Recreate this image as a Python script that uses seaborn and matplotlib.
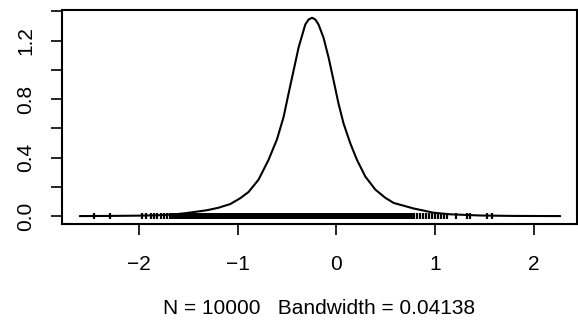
import matplotlib
matplotlib.use("Agg")
import numpy as np
import pandas as pd
import seaborn as sns
import matplotlib.pyplot as plt

# Density curve
dens_x = [-2.60, -2.30, -2.00, -1.80, -1.65, -1.514, -1.311, -1.20, -1.075, -0.974,
          -0.889, -0.788, -0.687, -0.601, -0.534, -0.484, -0.433, -0.382, -0.348,
          -0.314, -0.280, -0.246, -0.212, -0.180, -0.129, -0.078, -0.027, 0.023,
          0.074, 0.142, 0.210, 0.294, 0.396, 0.497, 0.581, 0.784, 0.987, 1.156,
          1.46, 1.80, 2.27]
dens_y = [0.000, 0.001, 0.003, 0.006, 0.011, 0.021, 0.040, 0.056, 0.082, 0.122,
          0.165, 0.249, 0.384, 0.525, 0.678, 0.837, 0.995, 1.153, 1.232,
          1.311, 1.345, 1.357, 1.345, 1.311, 1.220, 1.085, 0.927, 0.769,
          0.633, 0.498, 0.384, 0.271, 0.181, 0.125, 0.090, 0.052, 0.023, 0.012,
          0.004, 0.001, 0.000]

rug_x = [-2.46, -2.29, -1.97, -1.93, -1.88, -1.85, -1.82, -1.78, -1.75, -1.72,
         -1.69, -1.67, -1.65, -1.63, -1.61, -1.59, -1.57, -1.55, -1.53, -1.51, -1.49,
         -1.47, -1.45, -1.43, -1.41, -1.39, -1.37, -1.35, -1.33, -1.31, -1.29, -1.27,
         -1.25, -1.23, -1.21, -1.19, -1.17, -1.15, -1.13, -1.11, -1.09, -1.07, -1.05,
         -1.03, -1.01, -0.99, -0.97, -0.95, -0.93, -0.91, -0.89, -0.87, -0.85, -0.83,
         -0.81, -0.79, -0.77, -0.75, -0.73, -0.71, -0.69, -0.67, -0.65, -0.63, -0.61,
         -0.59, -0.57, -0.55, -0.53, -0.51, -0.49, -0.47, -0.45, -0.43, -0.41, -0.39,
         -0.37, -0.35, -0.33, -0.31, -0.29, -0.27, -0.25, -0.23, -0.21, -0.19, -0.17,
         -0.15, -0.13, -0.11, -0.09, -0.07, -0.05, -0.03, -0.01, 0.01, 0.03, 0.05,
         0.07, 0.09, 0.11, 0.13, 0.15, 0.17, 0.19, 0.21, 0.23, 0.25, 0.27, 0.29,
         0.31, 0.33, 0.35, 0.37, 0.39, 0.41, 0.43, 0.45, 0.47, 0.49, 0.51, 0.53,
         0.55, 0.57, 0.59, 0.61, 0.63, 0.65, 0.67, 0.69, 0.71, 0.73, 0.75,
         0.77, 0.79, 0.82, 0.85, 0.88, 0.91, 0.94, 0.97, 1.00, 1.03, 1.06, 1.09,
         1.12, 1.21, 1.32, 1.36, 1.53, 1.58]

x_ticks = [-2, -1, 0, 1, 2]
x_tick_labels = ["\u22122", "\u22121", "0", "1", "2"]
y_ticks = [0.0, 0.2, 0.4, 0.6, 0.8, 1.0, 1.2, 1.4]
y_tick_labels = ["0.0", "", "0.4", "", "0.8", "", "1.2", ""]
x_label = "N = 10000   Bandwidth = 0.04138"

sns.set_theme(style="ticks")
plt.rcParams['font.family'] = ['Liberation Sans', 'DejaVu Sans']

W, H = 578, 329
fig = plt.figure(figsize=(W / 100, H / 100), dpi=100)
ax = fig.add_axes([62 / W, 1 - 224 / H, (577 - 62) / W, (224 - 10) / H])

sns.lineplot(x=dens_x, y=dens_y, ax=ax, color="black", linewidth=1.5,
             sort=False, estimator=None)
sns.scatterplot(x=rug_x, y=[0.0] * len(rug_x), ax=ax, marker="|", s=18,
                color="black", linewidth=1.6)

ax.set_xlim(-2.78, 2.44)
ax.set_ylim(-0.0542, 1.41)
ax.set_xticks(x_ticks)
ax.set_xticklabels(x_tick_labels)
ax.set_yticks(y_ticks)
ax.set_yticklabels(y_tick_labels, rotation=90, va="center")
ax.tick_params(axis="both", length=8, width=1.2, color="black", labelsize=15,
               labelcolor="black")
ax.tick_params(axis="x", pad=14)
ax.tick_params(axis="y", pad=11)
ax.set_xlabel(x_label, fontsize=15, color="black", labelpad=18)
ax.set_ylabel("")
for s in ax.spines.values():
    s.set_visible(True)
    s.set_color("black")
    s.set_linewidth(1.5)

fig.savefig("out.png", dpi=100, facecolor="white")
